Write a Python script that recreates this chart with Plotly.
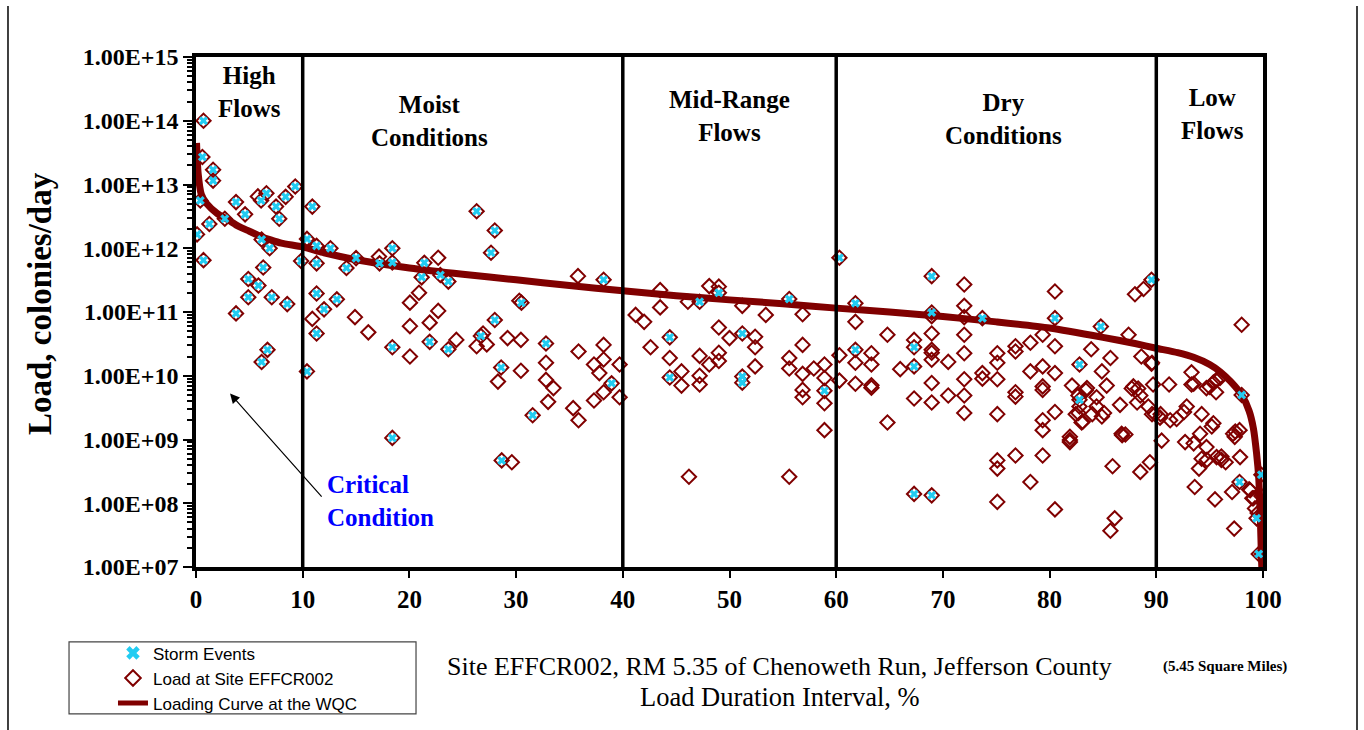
import plotly.graph_objects as go

# ---------------- data ----------------
# Load at Site EFFCR002 (all samples): duration interval %, load colonies/day
load_x = [0.7, 0.6, 1.6, 1.6, 0.4, 3.75, 5.8, 6.1, 6.6, 7.5, 8.4, 9.3, 7.8, 4.6, 2.7, 1.25, 0.1, 0.7,
          6.15, 6.9, 6.3, 4.9, 5.85, 4.9, 7.1, 8.55, 3.75, 6.7, 6.15, 9.85,
          10.4, 10.9, 11.3, 12.6, 11.3, 14.1, 15.0, 17.15, 17.2, 18.4, 18.4, 11.3, 13.2, 12.0, 10.9,
          11.3, 14.9, 16.15, 18.4, 20.05, 20.05, 20.05, 10.4, 18.4, 26.3, 28.0, 27.65, 21.4, 22.7,
          21.15, 22.9, 23.65, 20.9, 22.7, 21.9, 21.9, 23.65, 24.4, 35.8, 38.2, 30.5, 30.3,
          28.0, 26.7, 26.9, 26.3, 27.25, 29.2, 30.45, 32.8, 32.8, 28.6, 28.3, 30.45, 32.8, 33.5, 33.0,
          35.35, 35.85, 31.55, 35.85, 38.2, 37.3, 38.2, 37.8, 38.95, 39.7, 38.2, 37.3, 39.7, 28.65, 29.6,
          43.5, 43.5, 41.2, 42.0, 46.1, 47.2, 48.1, 49.0, 49.0, 51.2, 53.4, 55.6, 56.85, 44.4, 42.6,
          44.4, 44.4, 45.5, 45.5, 47.2, 47.2, 47.2, 48.1, 49.0, 49.0, 49.0, 50.0, 51.2, 52.4, 52.4,
          52.4, 51.2, 51.2, 56.85, 55.6, 55.6, 56.85, 57.9, 58.9, 58.9, 58.9, 56.85, 56.85, 58.9, 58.9,
          46.2, 55.6,
          60.3, 60.3, 60.3, 68.95, 72.0, 72.0, 61.8, 68.95, 68.95, 72.0, 73.7, 80.5, 80.5, 61.8, 64.8,
          61.8, 61.8, 63.3, 63.3, 61.8, 63.3, 63.3, 66.0, 67.3, 67.3, 67.3, 68.95, 68.95, 68.95, 68.95,
          68.95, 68.95, 67.3, 70.5, 70.5, 72.0, 72.0, 72.0, 72.0, 72.0, 73.7, 73.7, 75.1, 75.1, 75.1,
          75.1, 75.1, 75.1, 75.1, 76.8, 76.8, 76.8, 76.8, 76.8, 78.2, 78.2, 78.2, 79.35, 79.35, 79.35,
          79.35, 79.35, 79.35, 79.35, 80.5, 80.5, 80.5, 80.5, 67.3, 68.95, 64.8,
          89.55, 88.8, 88.0, 84.8, 87.4, 83.9, 85.7, 88.6, 89.55, 82.8, 84.9, 82.1, 83.5, 85.35, 87.85,
          89.7, 82.8, 82.8, 84.4, 84.4, 86.6, 88.2, 89.25, 89.9, 82.45, 83.0, 84.0, 85.1, 86.75, 87.1,
          81.9, 81.9, 89.4, 88.5, 86.1, 85.7, 82.7, 83.4, 87.7, 88.5, 89.6, 82.7, 83.1, 84.9, 86.8,
          81.9, 89.6, 88.3, 85.9,
          91.2, 93.3, 93.3, 95.35, 95.97, 94.7, 95.6, 98.0, 90.35, 91.9, 92.85, 94.25, 95.35, 90.5,
          92.7, 94.1, 94.7, 97.2, 97.4, 97.85, 94.25, 95.65, 96.1, 96.5, 94.0, 93.6, 95.5, 97.1, 97.3,
          97.8, 98.8, 99.0, 99.25, 99.4, 99.85, 99.85, 99.6, 99.9, 95.0, 95.6, 90.4, 91.3, 92.6, 95.2,
          93.5, 94.75, 96.1, 97.35, 97.8, 98.7, 99.1, 99.5, 98.0, 93.5]
load_y = [1.0e14, 2.7e13, 1.7e13, 1.15e13, 5.6e12, 5.3e12, 6.5e12, 5.6e12, 7.3e12, 4.5e12, 6.4e12, 9.3e12,
          2.9e12, 3.4e12, 2.9e12, 2.4e12, 1.65e12, 6.5e11,
          1.37e12, 1.0e12, 5.0e11, 3.3e11, 2.6e11, 1.7e11, 1.7e11, 1.33e11, 9.5e10, 2.55e10, 1.64e10, 6.3e11,
          1.4e12, 4.5e12, 1.09e12, 1.0e12, 5.8e11, 4.9e11, 7.0e11, 7.4e11, 5.8e11, 1.0e12, 6.0e11, 1.95e11,
          1.58e11, 1.1e11, 7.8e10,
          4.6e10, 8.3e10, 4.8e10, 2.8e10, 2.0e10, 1.4e11, 6.0e10, 1.17e10, 1.06e9, 3.8e12, 1.9e12, 8.5e11,
          5.9e11, 7.1e11,
          3.5e11, 3.8e11, 3.0e11, 2.0e11, 1.04e11, 6.8e10, 3.4e10, 2.6e10, 3.65e10, 3.65e11, 3.2e11, 1.4e11,
          1.5e11,
          7.5e10, 4.2e10, 4.6e10, 2.9e10, 3.1e10, 3.9e10, 3.65e10, 3.2e10, 1.6e10, 1.35e10, 8.1e9, 1.2e10,
          8.6e9, 6.4e9, 3.9e9,
          3.1e9, 2.0e9, 2.4e9, 2.4e10, 3.05e10, 1.5e10, 1.8e10, 1.1e10, 7.6e9, 1.5e10, 5.5e9, 4.1e9, 4.6e9,
          4.7e8, 4.4e8,
          2.2e11, 1.18e11, 9.0e10, 7.0e10, 1.45e11, 1.45e11, 2.55e11, 2.5e11, 2.0e11, 1.25e11, 9.0e10, 1.6e11,
          9.2e10, 4.0e10, 2.8e10,
          1.9e10, 9.4e9, 1.17e10, 7.0e9, 2.05e10, 1.0e10, 7.3e9, 1.5e10, 2.3e10, 1.7e10, 5.7e10, 3.9e10,
          4.6e10, 4.1e10, 2.8e10,
          1.4e10, 9.7e9, 7.8e9, 3.05e10, 1.9e10, 1.3e10, 1.07e10, 1.3e10, 1.5e10, 9.2e9, 5.8e9, 6.0e9, 4.6e9,
          3.7e9, 1.4e9,
          2.6e8, 2.6e8,
          7.1e11, 2.1e10, 8.4e9, 3.65e11, 2.7e11, 1.25e11, 1.37e11, 9.8e10, 8.6e10, 8.3e10, 8.0e10, 2.1e11,
          8.0e10, 7.0e10, 4.4e10,
          2.55e10, 1.6e10, 2.25e10, 1.5e10, 7.5e9, 7.1e9, 6.5e9, 1.27e10, 3.65e10, 2.8e10, 1.4e10, 4.6e10,
          2.55e10, 2.3e10, 1.78e10,
          7.7e9, 3.8e9, 4.4e9, 1.65e10, 4.9e9, 4.4e10, 2.25e10, 8.8e9, 4.9e9, 2.6e9, 1.1e10, 9.0e9, 2.25e10,
          1.6e10, 8.8e9,
          2.5e9, 4.7e8, 3.5e8, 1.05e8, 2.9e10, 2.4e10, 5.5e9, 4.7e9, 5.6e8, 3.3e10, 1.17e10, 2.15e8, 4.4e10,
          1.4e10, 6.8e9,
          6.0e9, 2.0e9, 1.4e9, 5.6e8, 2.9e10, 1.1e10, 2.7e9, 8.0e7, 1.4e8, 1.33e8, 1.85e9,
          3.2e11, 2.3e11, 1.9e11, 5.9e10, 4.4e10, 2.6e10, 1.9e10, 2.0e10, 1.54e10, 1.5e10, 1.17e10, 7.0e9,
          6.4e9, 7.0e9, 6.8e9,
          7.3e9, 4.2e9, 3.3e9, 4.6e9, 3.3e9, 3.5e9, 3.8e9, 3.3e9, 2.5e9, 2.5e9, 1.85e9, 2.5e9, 2.6e9, 1.23e9,
          1.2e9,
          9.1e8, 1.1e9, 4.4e8, 3.1e8, 5.8e7, 3.7e7, 4.9e9, 5.9e9, 6.3e9, 4.9e9, 2.5e9, 2.6e9, 1.9e9, 2.3e9,
          1.17e9,
          9.8e8, 1.6e10, 6.3e9, 3.8e8,
          7.3e9, 1.13e10, 7.3e9, 7.8e9, 9.2e9, 6.4e9, 5.5e9, 5.0e9, 2.2e9, 2.1e9, 3.3e9, 2.5e9, 1.8e9, 9.6e8,
          9.1e8, 1.23e9, 7.6e8, 1.23e9, 1.33e9, 5.3e8, 5.0e8, 5.3e8, 4.8e8, 4.4e8, 3.5e8, 1.8e8, 1.15e8,
          1.5e8, 4.0e7,
          2.15e8, 1.6e8, 1.2e8, 8.3e7, 5.8e7, 2.8e8, 1.3e8, 1.6e7, 1.6e7, 6.7e9, 8.5e9, 2.5e9, 2.0e9, 2.7e9,
          1.6e9,
          8.7e8, 4.8e8, 5.4e8, 1.1e9, 1.4e9, 1.65e8, 1.2e8, 7.0e7, 6.3e10, 7.5e9]

# Storm events (subset of the samples)
storm_x = [0.7, 0.6, 1.6, 1.6, 0.4, 3.75, 6.1, 6.6, 7.5, 8.4, 9.3, 7.8, 4.6, 2.7, 1.25, 0.1, 0.7, 6.15,
           6.9, 6.3, 4.9, 5.85, 4.9, 7.1, 8.55, 3.75, 6.7, 6.15, 9.85,
           10.4, 10.9, 11.3, 12.6, 11.3, 14.1, 15.0, 17.2, 18.4, 18.4, 11.3, 13.2, 12.0, 11.3, 18.4, 10.4,
           18.4, 26.3, 28.0, 27.65, 21.4, 21.15, 22.9, 23.65, 21.9, 23.65, 38.2, 30.5, 28.0, 26.7, 32.8,
           28.6, 31.55, 38.95, 28.65,
           47.2, 49.0, 55.6, 44.4, 44.4, 51.2, 51.2, 51.2, 58.9,
           60.3, 68.95, 61.8, 68.95, 73.7, 80.5, 61.8, 67.3, 67.3, 67.3, 68.95,
           89.55, 84.8, 82.8, 82.8, 98.0, 97.8, 99.4, 99.85, 99.6]
storm_y = [1.0e14, 2.7e13, 1.7e13, 1.15e13, 5.6e12, 5.3e12, 5.6e12, 7.3e12, 4.5e12, 6.4e12, 9.3e12, 2.9e12,
           3.4e12, 2.9e12, 2.4e12, 1.65e12, 6.5e11, 1.37e12,
           1.0e12, 5.0e11, 3.3e11, 2.6e11, 1.7e11, 1.7e11, 1.33e11, 9.5e10, 2.55e10, 1.64e10, 6.3e11,
           1.4e12, 4.5e12, 1.09e12, 1.0e12, 5.8e11, 4.9e11, 7.0e11, 5.8e11, 1.0e12, 6.0e11, 1.95e11, 1.58e11,
           1.1e11, 4.6e10, 2.8e10, 1.17e10,
           1.06e9, 3.8e12, 1.9e12, 8.5e11, 5.9e11, 3.5e11, 3.8e11, 3.0e11, 3.4e10, 2.6e10, 3.2e11, 1.4e11,
           7.5e10, 4.2e10, 3.2e10,
           1.35e10, 2.4e9, 7.6e9, 4.7e8,
           1.45e11, 2.0e11, 1.6e11, 4.0e10, 9.4e9, 4.6e10, 9.7e9, 7.8e9, 5.8e9,
           7.1e11, 3.65e11, 1.37e11, 9.8e10, 8.0e10, 8.0e10, 2.55e10, 2.8e10, 1.4e10, 1.4e8, 1.33e8,
           3.2e11, 5.9e10, 1.5e10, 4.2e9, 5.0e9, 2.15e8, 5.8e7, 2.8e8, 1.6e7]

# Loading curve at the water quality criterion
curve_x = [0.05, 0.2, 0.5, 1, 2, 3, 4, 5, 6, 7, 8, 10, 12, 15, 20, 25, 30, 35, 40, 45, 50, 55, 60, 65,
           70, 75, 80, 85, 88, 90, 92, 93.5, 95, 96, 97, 98, 98.7, 99.1, 99.4, 99.6, 99.75, 99.85, 99.95]
curve_y = [4.5e13, 1.5e13, 7.0e12, 5.0e12, 3.5e12, 2.8e12, 2.2e12, 1.85e12, 1.55e12, 1.35e12, 1.2e12,
           1.05e12, 8.5e11, 6.6e11, 4.9e11, 3.9e11, 3.2e11, 2.6e11, 2.15e11, 1.8e11, 1.55e11, 1.35e11,
           1.15e11, 1.0e11, 8.5e10, 7.0e10, 5.6e10, 4.0e10, 3.2e10, 2.7e10, 2.3e10, 1.95e10, 1.5e10,
           1.15e10, 8.0e9, 5.0e9, 2.8e9, 1.5e9, 6.0e8, 2.5e8, 6.0e7, 1.5e7, 5.0e6]

zone_bounds = [10, 40, 60, 90]
zone_names = ["High<br>Flows", "Moist<br>Conditions", "Mid-Range<br>Flows", "Dry<br>Conditions", "Low<br>Flows"]
zone_label_x = [5, 21.9, 50, 75.7, 95.3]
zone_label_logy = [14.45, 14.0, 14.07, 14.02, 14.11]

y_exponents = list(range(7, 16))
y_tickvals = [10.0 ** e for e in y_exponents]
y_ticktext = ["1.00E+%02d" % e for e in y_exponents]

DARK_RED = "#800000"
CYAN = "#22CCF2"
SERIF = "Liberation Serif, Times New Roman, serif"
SANS = "Liberation Sans, Arial, sans-serif"

fig = go.Figure()

fig.add_trace(go.Scatter(
    x=load_x, y=load_y, mode="markers", name="Load at Site EFFCR002", legendrank=2,
    marker=dict(symbol="diamond-open", size=11, color=DARK_RED, line=dict(width=2, color=DARK_RED)),
))
fig.add_trace(go.Scatter(
    x=curve_x, y=curve_y, mode="lines", name="Loading Curve at the WQC", legendrank=3,
    line=dict(color=DARK_RED, width=7, shape="spline", smoothing=0.6),
))
fig.add_trace(go.Scatter(
    x=storm_x, y=storm_y, mode="markers", name="Storm Events", legendrank=1,
    marker=dict(symbol="x", size=8, color=CYAN, line=dict(width=0)),
))

# zone dividers
for b in zone_bounds:
    fig.add_shape(type="line", xref="x", yref="paper", x0=b, x1=b, y0=0, y1=1,
                  line=dict(color="black", width=3.5))

# zone labels
for name, lx, ly in zip(zone_names, zone_label_x, zone_label_logy):
    fig.add_annotation(x=lx, y=ly, xref="x", yref="y", text=name, showarrow=False,
                       font=dict(family=SERIF, size=25, color="black", weight="bold"),
                       xanchor="center", yanchor="middle", align="center")

# critical condition
fig.add_annotation(x=12.1, y=8.03, xref="x", yref="y", text="Critical<br>Condition", showarrow=False,
                   font=dict(family=SERIF, size=25, color="#0000FF", weight="bold"),
                   xanchor="left", yanchor="middle", align="left")
fig.add_annotation(x=3.19, y=9.72, xref="x", yref="y", ax=11.9, ay=8.08, axref="x", ayref="y",
                   text="", showarrow=True, arrowhead=2, arrowsize=1.6, arrowwidth=1.2, arrowcolor="black")

# axis titles
fig.add_annotation(x=-0.1462, y=0.5157, xref="paper", yref="paper", text="Load, colonies/day",
                   textangle=-90, showarrow=False, xanchor="center", yanchor="middle",
                   font=dict(family=SERIF, size=33, color="black", weight="bold"))
fig.add_annotation(x=0.5464, y=-0.196, xref="paper", yref="paper",
                   text="Site EFFCR002, RM 5.35 of Chenoweth Run, Jefferson County",
                   showarrow=False, xanchor="center", yanchor="middle",
                   font=dict(family=SERIF, size=26, color="black"))
fig.add_annotation(x=0.5473, y=-0.255, xref="paper", yref="paper", text="Load Duration Interval, %",
                   showarrow=False, xanchor="center", yanchor="middle",
                   font=dict(family=SERIF, size=26.5, color="black"))
fig.add_annotation(x=0.9644, y=-0.196, xref="paper", yref="paper", text="(5.45 Square Miles)",
                   showarrow=False, xanchor="center", yanchor="middle",
                   font=dict(family=SERIF, size=15, color="black", weight="bold"))

# legend frame
fig.add_shape(type="rect", xref="paper", yref="paper", x0=-0.119, x1=0.2062, y0=-0.147, y1=-0.288,
              line=dict(color="#444444", width=1.2), fillcolor="rgba(0,0,0,0)")
# outer chart border (left / right)
fig.add_shape(type="line", xref="paper", yref="paper", x0=-0.1762, x1=-0.1762, y0=1.10, y1=-0.35,
              line=dict(color="black", width=1.5))
fig.add_shape(type="line", xref="paper", yref="paper", x0=1.0881, x1=1.0881, y0=1.10, y1=-0.35,
              line=dict(color="black", width=1.5))

fig.update_xaxes(range=[0, 100], dtick=10, tick0=0, showline=True, linewidth=3.5, linecolor="black",
                 mirror=True, ticks="outside", ticklen=7, tickwidth=2, tickcolor="black", showgrid=False,
                 zeroline=False, automargin=False,
                 tickfont=dict(family=SERIF, size=25, color="black", weight="bold"))
fig.update_yaxes(type="log", range=[7, 15], tickvals=y_tickvals, ticktext=y_ticktext, showline=True,
                 linewidth=3.5, linecolor="black", mirror=True, ticks="outside", ticklen=9, tickwidth=2,
                 tickcolor="black", showgrid=False, zeroline=False, automargin=False,
                 minor=dict(ticks="outside", ticklen=5, tickwidth=1.5, tickcolor="black", dtick="D1",
                            showgrid=False),
                 tickfont=dict(family=SERIF, size=24, color="black", weight="bold"))

fig.update_layout(
    width=1364, height=730,
    margin=dict(l=196, r=101, t=57, b=163, autoexpand=False),
    paper_bgcolor="white", plot_bgcolor="white",
    showlegend=True,
    legend=dict(x=-0.0778, y=-0.134, xanchor="left", yanchor="top", bgcolor="rgba(0,0,0,0)",
                borderwidth=0, font=dict(family=SANS, size=17, color="black"), tracegroupgap=0,
                itemsizing="constant"),
)

fig.write_html("out.html", config={"displayModeBar": False},
               post_script="document.body.style.margin='0';document.body.style.overflow='hidden';")
